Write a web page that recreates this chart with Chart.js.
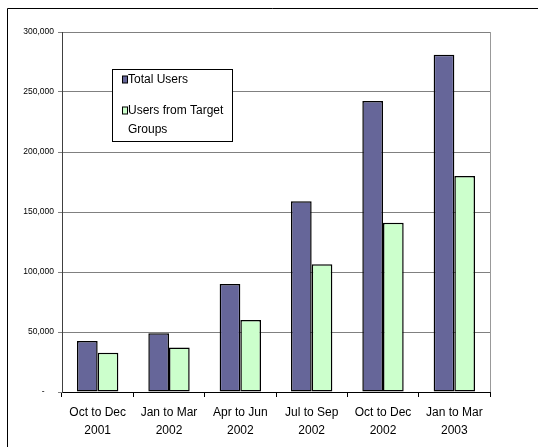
<!DOCTYPE html>
<html>
<head>
<meta charset="utf-8">
<title>Users per quarter</title>
<script src="https://cdn.jsdelivr.net/npm/chart.js@4/dist/chart.umd.min.js"></script>
<style>
  html, body { margin: 0; padding: 0; background: #ffffff; }
  #wrap { width: 538px; height: 447px; position: relative; }
</style>
</head>
<body>
<div id="wrap"><canvas id="chart" width="538" height="447"></canvas></div>
<script>
// Quarterly periods (two-line labels)
const quarters = [
  ['Oct to Dec', '2001'],
  ['Jan to Mar', '2002'],
  ['Apr to Jun', '2002'],
  ['Jul to Sep', '2002'],
  ['Oct to Dec', '2002'],
  ['Jan to Mar', '2003']
];
const seriesNames = ['Total Users', 'Users from Target Groups'];
const totalUsers  = [42500, 49000, 90000, 159000, 242500, 281000];
const targetUsers = [32800, 37000, 60000, 106500, 141000, 180000];
const yTicks = [0, 50000, 100000, 150000, 200000, 250000, 300000];

const colTotal = '#666699';
const colTarget = '#ccffcc';
const fontFamily = "'Liberation Sans', Arial, sans-serif";

// Outer frame lines and the plot's right border
const framePlugin = {
  id: 'frame',
  afterDraw(chart) {
    const ctx = chart.ctx, a = chart.chartArea;
    ctx.save();
    ctx.strokeStyle = '#000';
    ctx.lineWidth = 1;
    ctx.beginPath();
    ctx.moveTo(7.5, 447);
    ctx.lineTo(7.5, 8.5);
    ctx.lineTo(538, 8.5);
    ctx.stroke();
    ctx.strokeStyle = '#999';
    ctx.beginPath();
    ctx.moveTo(Math.round(a.right) + 0.5, a.top);
    ctx.lineTo(Math.round(a.right) + 0.5, a.bottom);
    ctx.stroke();
    ctx.restore();
  }
};

// Boxed legend placed inside the plot area
const boxLegend = {
  id: 'boxLegend',
  afterDraw(chart) {
    const ctx = chart.ctx;
    const x = 112.5, y = 69.5, w = 120, h = 72;
    ctx.save();
    ctx.fillStyle = '#fff';
    ctx.fillRect(x, y, w, h);
    ctx.strokeStyle = '#000';
    ctx.lineWidth = 1;
    ctx.strokeRect(x, y, w, h);
    ctx.font = '12px ' + fontFamily;
    ctx.textBaseline = 'middle';
    ctx.textAlign = 'left';
    const maxW = 100, lh = 19;
    const rows = [80, 111];
    chart.data.datasets.forEach((ds, i) => {
      // wrap label into lines
      const words = ds.label.split(' ');
      const lines = [];
      let cur = '';
      words.forEach(wd => {
        const t = cur ? cur + ' ' + wd : wd;
        if (ctx.measureText(t).width > maxW && cur) { lines.push(cur); cur = wd; }
        else cur = t;
      });
      lines.push(cur);
      const cy = rows[i];
      ctx.fillStyle = ds.backgroundColor;
      ctx.fillRect(122.5, cy - 4, 5, 7);
      ctx.strokeStyle = '#000';
      ctx.strokeRect(122.5, cy - 4, 5, 7);
      ctx.fillStyle = '#000';
      lines.forEach((ln, k) => ctx.fillText(ln, 128, cy + k * lh));
    });
    ctx.restore();
  }
};

new Chart(document.getElementById('chart'), {
  type: 'bar',
  data: {
    labels: quarters,
    datasets: [
      { label: seriesNames[0], data: totalUsers, backgroundColor: colTotal, borderColor: '#000', borderWidth: 1.5, borderSkipped: false },
      { label: seriesNames[1], data: targetUsers, backgroundColor: colTarget, borderColor: '#000', borderWidth: 1.5, borderSkipped: false }
    ]
  },
  options: {
    responsive: false,
    devicePixelRatio: 1,
    animation: false,
    layout: { padding: { left: 0, top: 32, right: 48, bottom: 0 } },
    plugins: { legend: { display: false }, tooltip: { enabled: false } },
    datasets: { bar: { barPercentage: 1, categoryPercentage: 0.58 } },
    scales: {
      x: {
        offset: true,
        grid: { display: true, drawOnChartArea: false, drawTicks: true, tickLength: 5, color: '#000', offset: true },
        border: { color: '#000', width: 1 },
        ticks: {
          color: '#000', maxRotation: 0, autoSkip: false, padding: 6,
          font: { family: fontFamily, size: 12, lineHeight: 1.55 }
        },
        afterFit(scale) { scale.height = 55; }
      },
      y: {
        min: 0, max: 300000,
        afterBuildTicks(scale) { scale.ticks = yTicks.map(v => ({ value: v })); },
        grid: { color: '#808080', tickLength: 4, drawTicks: true },
        border: { color: '#404040', width: 1 },
        ticks: {
          color: '#000', padding: 4,
          font: { family: fontFamily, size: 8.5 },
          callback(v) { return v === 0 ? '-    ' : v.toLocaleString('en-US'); }
        },
        afterFit(scale) { scale.width = 62; }
      }
    }
  },
  plugins: [framePlugin, boxLegend]
});
</script>
</body>
</html>
